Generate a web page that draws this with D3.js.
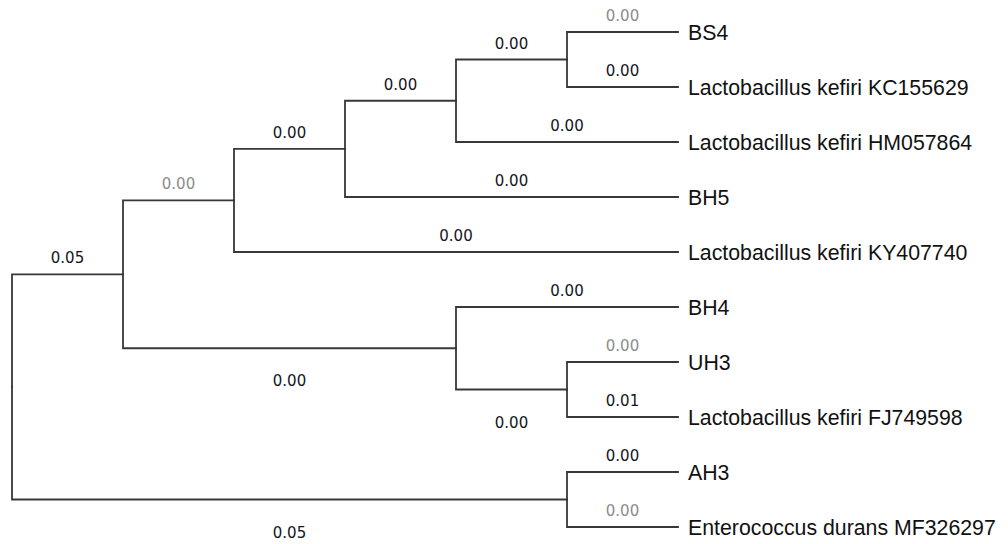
<!DOCTYPE html>
<html>
<head>
<meta charset="utf-8">
<script src="https://cdn.jsdelivr.net/npm/d3@7"></script>
<style>
  body { margin: 0; background: #fff; }
  .branch { fill: none; stroke: #383838; stroke-width: 1.8px; stroke-linecap: square; }
  .blen { font-family: "DejaVu Sans", Verdana, sans-serif; font-size: 15px; text-anchor: middle; fill: #14141e; }
  .blen.faint { fill: #8c8c8c; }
  .leaf { font-family: "Liberation Sans", Arial, sans-serif; font-size: 21.3px; fill: #111; }
</style>
</head>
<body>
<div id="tree"></div>
<script>
// tree topology (child -> parent), in drawing order
var nodeIds = ["root", "c1", "c2", "c3", "c4", "c5",
  "BS4", "Lactobacillus kefiri KC155629", "Lactobacillus kefiri HM057864",
  "BH5", "Lactobacillus kefiri KY407740",
  "c6", "BH4", "c7", "UH3", "Lactobacillus kefiri FJ749598",
  "c8", "AH3", "Enterococcus durans MF326297"];
var parentIds = ["", "root", "c1", "c2", "c3", "c4",
  "c5", "c5", "c4",
  "c3", "c2",
  "c1", "c6", "c6", "c7", "c7",
  "root", "c8", "c8"];
var branchLabels = ["", "0.05", "0.00", "0.00", "0.00", "0.00",
  "0.00", "0.00", "0.00",
  "0.00", "0.00",
  "0.00", "0.00", "0.00", "0.00", "0.01",
  "0.05", "0.00", "0.00"];
// labels MEGA printed in grey
var faintLabels = ["c2", "BS4", "UH3", "Enterococcus durans MF326297"];

var width = 1008, height = 544;

var rows = nodeIds.map(function(id, i) {
  return {id: id, parent: parentIds[i] || null, label: branchLabels[i]};
});

var root = d3.stratify()
    .id(function(d) { return d.id; })
    .parentId(function(d) { return d.parent; })(rows);

var cluster = d3.cluster()
    .size([550, 666])
    .separation(function() { return 1; });
cluster(root);

var svg = d3.select("#tree").append("svg")
    .attr("width", width)
    .attr("height", height);

var g = svg.append("g").attr("transform", "translate(12,4.5)");

g.selectAll("path.branch")
  .data(root.descendants().slice(1))
  .enter().append("path")
    .attr("class", "branch")
    .attr("d", function(d) {
      return "M" + d.parent.y + "," + d.parent.x + "V" + d.x + "H" + d.y;
    });

// branch length labels: above the branch, or below for a lower inner clade
g.selectAll("text.blen")
  .data(root.descendants().slice(1))
  .enter().append("text")
    .attr("class", function(d) { return faintLabels.indexOf(d.id) >= 0 ? "blen faint" : "blen"; })
    .attr("x", function(d) { return (d.parent.y + d.y) / 2; })
    .attr("y", function(d) {
      var lower = d.children && d.parent.children.indexOf(d) > 0;
      return lower ? d.x + 38 : d.x - 11;
    })
    .text(function(d) { return d.data.label; });

g.selectAll("text.leaf")
  .data(root.leaves())
  .enter().append("text")
    .attr("class", "leaf")
    .attr("x", function(d) { return d.y + 10; })
    .attr("y", function(d) { return d.x; })
    .attr("dy", "0.36em")
    .text(function(d) { return d.id; });
</script>
</body>
</html>
